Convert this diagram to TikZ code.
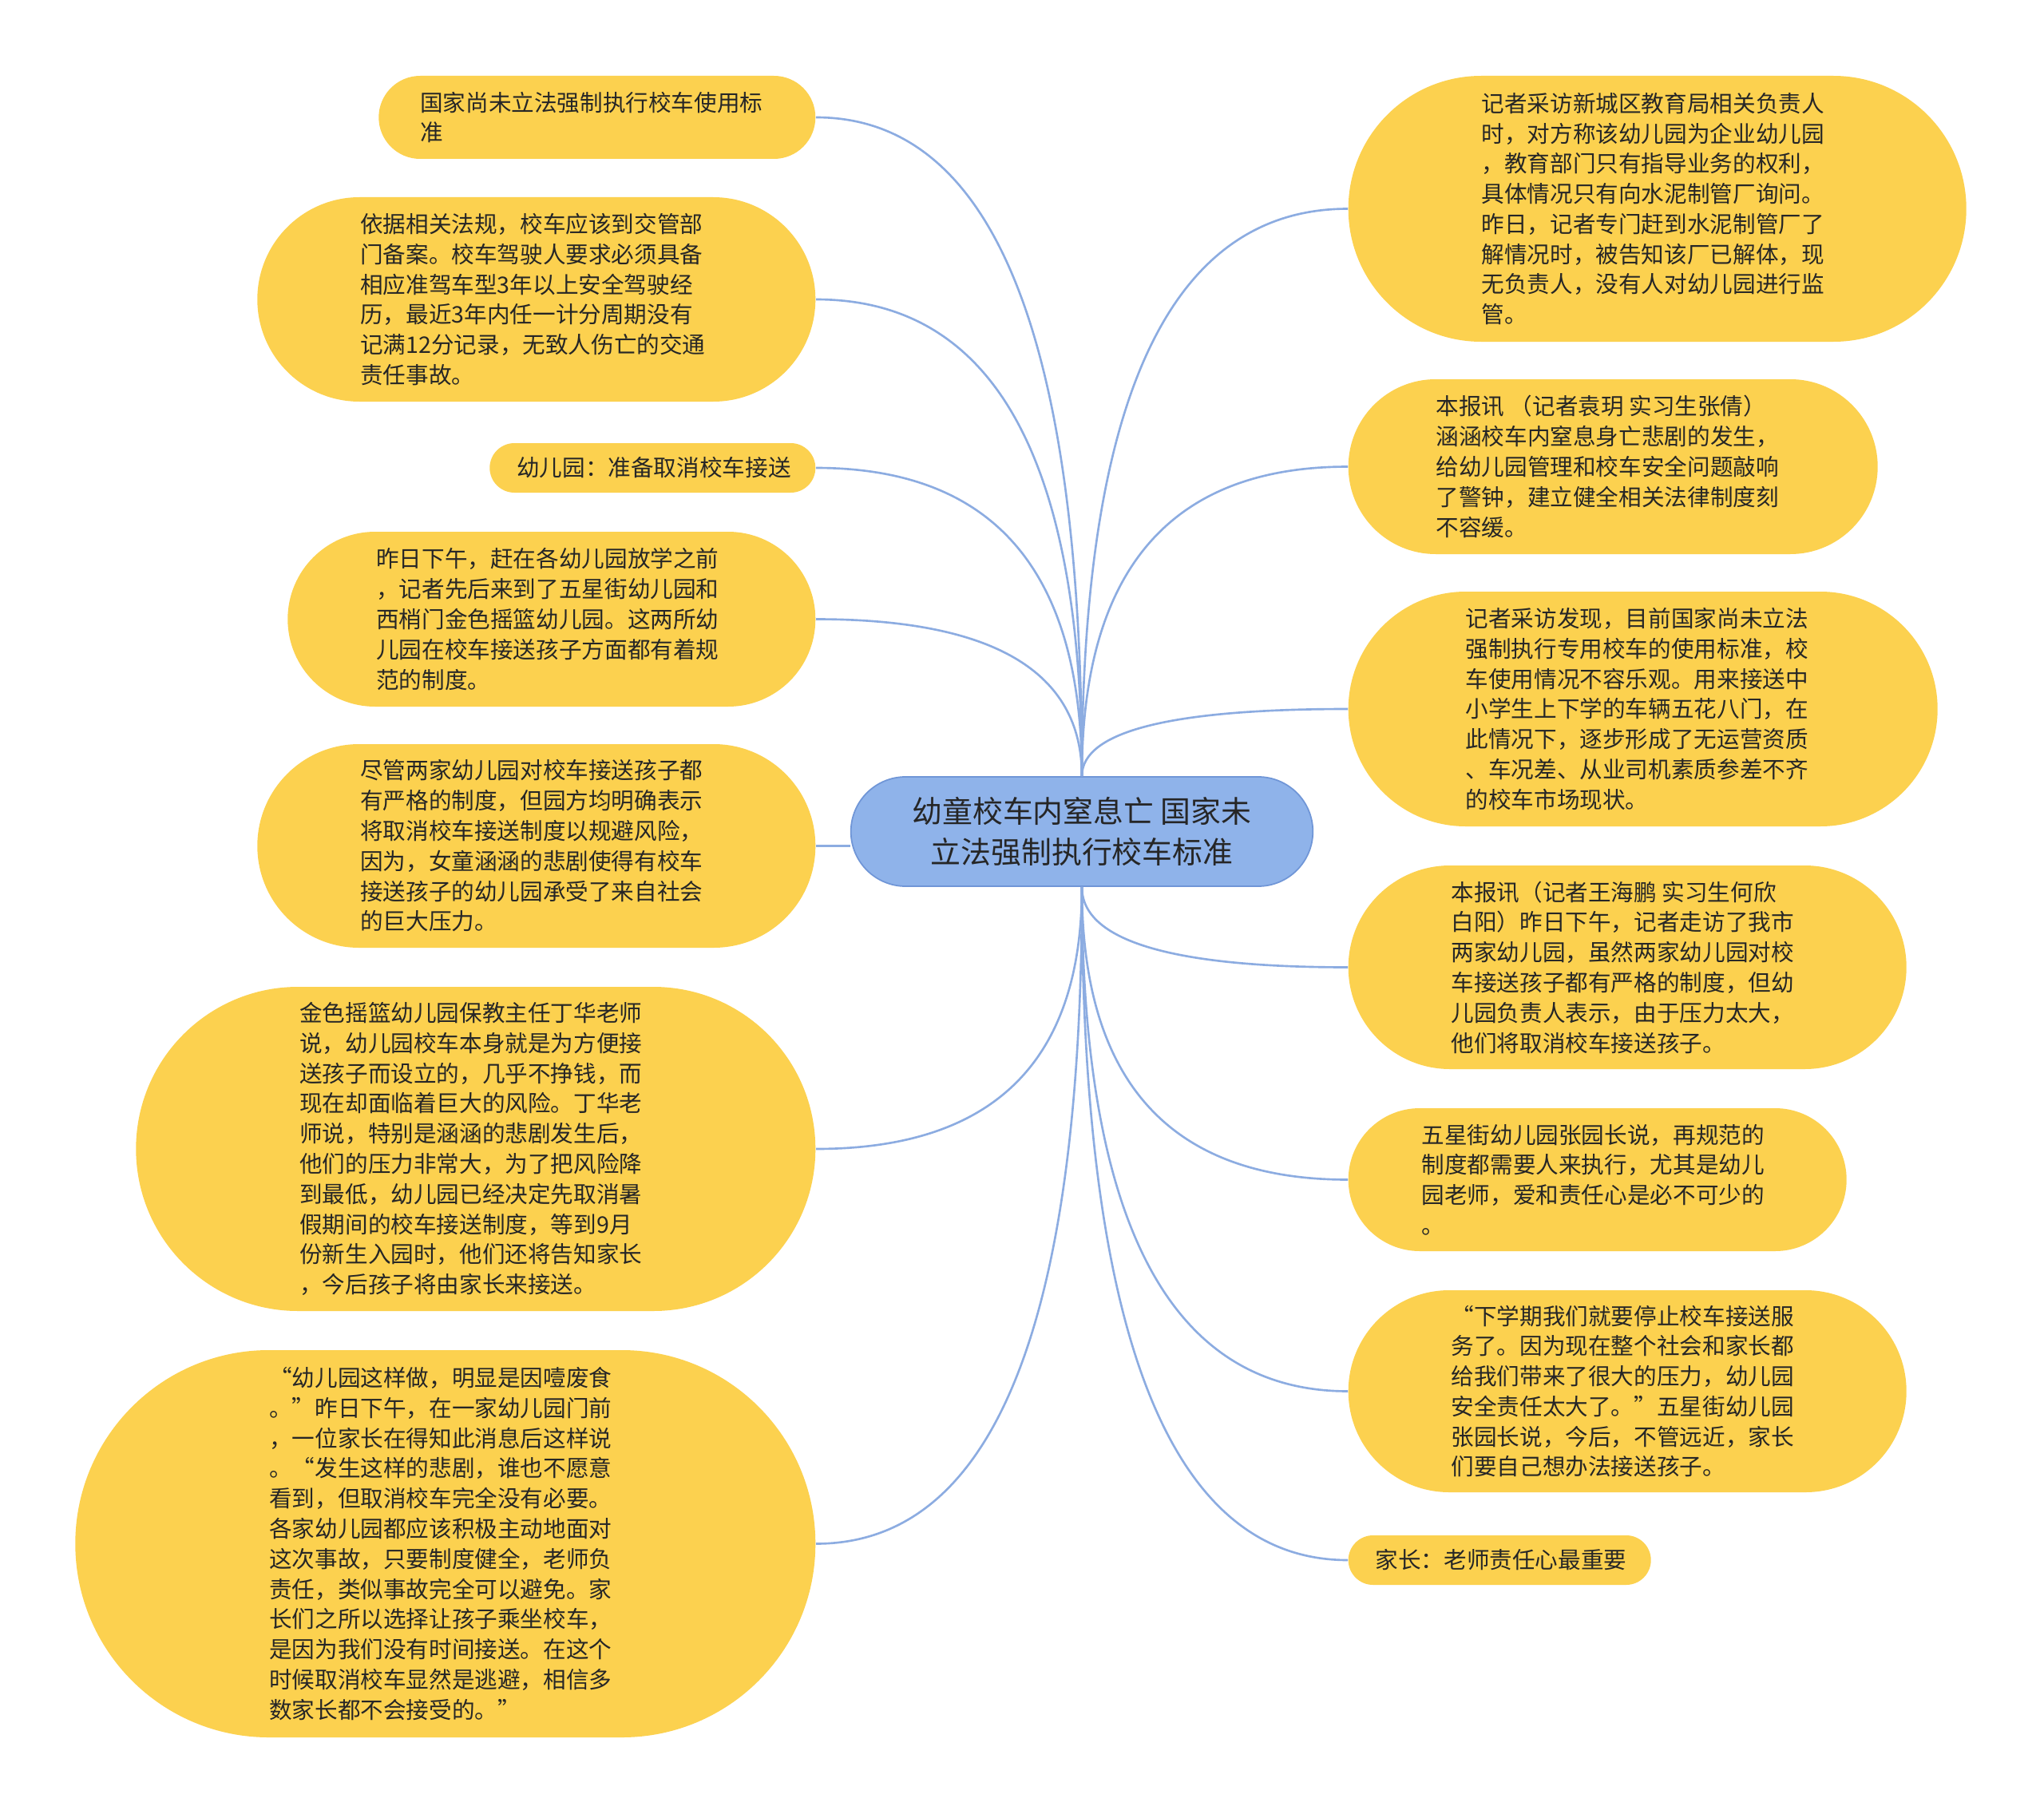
\documentclass[tikz,border=0pt]{standalone}
\usepackage{fontspec}
\newfontfamily\cjk{Noto Sans CJK SC}
\usetikzlibrary{shapes.misc,calc}
\definecolor{bubbleyellow}{RGB}{252,209,79}
\definecolor{rootblue}{RGB}{143,179,234}
\definecolor{rootedge}{RGB}{112,150,215}
\definecolor{linkblue}{RGB}{140,172,225}

\begin{document}
\begin{tikzpicture}[
    bubble/.style={rounded rectangle, fill=bubbleyellow, inner sep=0pt},
    txt/.style={inner sep=0pt, align=left, text=black!85, font=\cjk\fontsize{8.14pt}{10.75pt}\selectfont},
    rootnode/.style={rounded rectangle, fill=rootblue, draw=rootedge, line width=0.5pt, minimum width=6.02cm, minimum height=1.37cm, align=center, text=black!85, font=\cjk\fontsize{10.78pt}{14.4pt}\selectfont},
    link/.style={draw=linkblue, line width=0.75pt}
]
\fill[white] (0,0) rectangle (25.6,-22.72);
\useasboundingbox (0,0) rectangle (25.6,-22.72);

% Root
\node[rootnode] (root) at (13.55,-10.415) {幼童校车内窒息亡 国家未\\立法强制执行校车标准};

% Left bubbles
\node[bubble, minimum width=5.47cm, minimum height=1.04cm, anchor=east] (l1) at (10.22,-1.47) {};
\node[txt, anchor=west] (l1t) at ([xshift=0.52cm]l1.west) {国家尚未立法强制执行校车使用标\\准};

\node[bubble, minimum width=6.99cm, minimum height=2.56cm, anchor=east] (l2) at (10.22,-3.75) {};
\node[txt, anchor=west] (l2t) at ([xshift=1.29cm]l2.west) {依据相关法规，校车应该到交管部\\门备案。校车驾驶人要求必须具备\\相应准驾车型3年以上安全驾驶经\\历，最近3年内任一计分周期没有\\记满12分记录，无致人伤亡的交通\\责任事故。};

\node[bubble, minimum width=4.08cm, minimum height=0.62cm, anchor=east] (l3) at (10.22,-5.86) {};
\node[txt, anchor=west] (l3t) at ([xshift=0.34cm]l3.west) {幼儿园：准备取消校车接送};

\node[bubble, minimum width=6.61cm, minimum height=2.19cm, anchor=east] (l4) at (10.22,-7.755) {};
\node[txt, anchor=west] (l4t) at ([xshift=1.11cm]l4.west) {昨日下午，赶在各幼儿园放学之前\\，记者先后来到了五星街幼儿园和\\西梢门金色摇篮幼儿园。这两所幼\\儿园在校车接送孩子方面都有着规\\范的制度。};

\node[bubble, minimum width=6.99cm, minimum height=2.55cm, anchor=east] (l5) at (10.22,-10.595) {};
\node[txt, anchor=west] (l5t) at ([xshift=1.29cm]l5.west) {尽管两家幼儿园对校车接送孩子都\\有严格的制度，但园方均明确表示\\将取消校车接送制度以规避风险，\\因为，女童涵涵的悲剧使得有校车\\接送孩子的幼儿园承受了来自社会\\的巨大压力。};

\node[bubble, minimum width=8.51cm, minimum height=4.06cm, anchor=east] (l6) at (10.22,-14.39) {};
\node[txt, anchor=west] (l6t) at ([xshift=2.05cm]l6.west) {金色摇篮幼儿园保教主任丁华老师\\说，幼儿园校车本身就是为方便接\\送孩子而设立的，几乎不挣钱，而\\现在却面临着巨大的风险。丁华老\\师说，特别是涵涵的悲剧发生后，\\他们的压力非常大，为了把风险降\\到最低，幼儿园已经决定先取消暑\\假期间的校车接送制度，等到9月\\份新生入园时，他们还将告知家长\\，今后孩子将由家长来接送。};

\node[bubble, minimum width=9.27cm, minimum height=4.85cm, anchor=east] (l7) at (10.22,-19.335) {};
\node[txt, anchor=west] (l7t) at ([xshift=2.43cm]l7.west) {“幼儿园这样做，明显是因噎废食\\。”昨日下午，在一家幼儿园门前\\，一位家长在得知此消息后这样说\\。“发生这样的悲剧，谁也不愿意\\看到，但取消校车完全没有必要。\\各家幼儿园都应该积极主动地面对\\这次事故，只要制度健全，老师负\\责任，类似事故完全可以避免。家\\长们之所以选择让孩子乘坐校车，\\是因为我们没有时间接送。在这个\\时候取消校车显然是逃避，相信多\\数家长都不会接受的。”};

% Right bubbles
\node[bubble, minimum width=7.74cm, minimum height=3.33cm, anchor=west] (r1) at (16.88,-2.615) {};
\node[txt, anchor=west] (r1t) at ([xshift=1.67cm]r1.west) {记者采访新城区教育局相关负责人\\时，对方称该幼儿园为企业幼儿园\\，教育部门只有指导业务的权利，\\具体情况只有向水泥制管厂询问。\\昨日，记者专门赶到水泥制管厂了\\解情况时，被告知该厂已解体，现\\无负责人，没有人对幼儿园进行监\\管。};

\node[bubble, minimum width=6.63cm, minimum height=2.19cm, anchor=west] (r2) at (16.88,-5.845) {};
\node[txt, anchor=west] (r2t) at ([xshift=1.10cm]r2.west) {本报讯 （记者袁玥 实习生张倩）\\涵涵校车内窒息身亡悲剧的发生，\\给幼儿园管理和校车安全问题敲响\\了警钟，建立健全相关法律制度刻\\不容缓。};

\node[bubble, minimum width=7.38cm, minimum height=2.94cm, anchor=west] (r3) at (16.88,-8.88) {};
\node[txt, anchor=west] (r3t) at ([xshift=1.47cm]r3.west) {记者采访发现，目前国家尚未立法\\强制执行专用校车的使用标准，校\\车使用情况不容乐观。用来接送中\\小学生上下学的车辆五花八门，在\\此情况下，逐步形成了无运营资质\\、车况差、从业司机素质参差不齐\\的校车市场现状。};

\node[bubble, minimum width=6.99cm, minimum height=2.55cm, anchor=west] (r4) at (16.88,-12.115) {};
\node[txt, anchor=west] (r4t) at ([xshift=1.29cm]r4.west) {本报讯（记者王海鹏 实习生何欣\\白阳）昨日下午，记者走访了我市\\两家幼儿园，虽然两家幼儿园对校\\车接送孩子都有严格的制度，但幼\\儿园负责人表示，由于压力太大，\\他们将取消校车接送孩子。};

\node[bubble, minimum width=6.24cm, minimum height=1.79cm, anchor=west] (r5) at (16.88,-14.775) {};
\node[txt, anchor=west] (r5t) at ([xshift=0.92cm]r5.west) {五星街幼儿园张园长说，再规范的\\制度都需要人来执行，尤其是幼儿\\园老师，爱和责任心是必不可少的\\。};

\node[bubble, minimum width=6.99cm, minimum height=2.53cm, anchor=west] (r6) at (16.88,-17.425) {};
\node[txt, anchor=west] (r6t) at ([xshift=1.29cm]r6.west) {“下学期我们就要停止校车接送服\\务了。因为现在整个社会和家长都\\给我们带来了很大的压力，幼儿园\\安全责任太大了。”五星街幼儿园\\张园长说，今后，不管远近，家长\\们要自己想办法接送孩子。};

\node[bubble, minimum width=3.79cm, minimum height=0.62cm, anchor=west] (r7) at (16.88,-19.54) {};
\node[txt, anchor=west] (r7t) at ([xshift=0.34cm]r7.west) {家长：老师责任心最重要};

% Branch lines
\draw[link] (l1.east) .. controls ($(l1.east)!2/3!(l1.east-|root.north)$) and ($(root.north)!2/3!(l1.east-|root.north)$) .. (root.north);
\draw[link] (l2.east) .. controls ($(l2.east)!2/3!(l2.east-|root.north)$) and ($(root.north)!2/3!(l2.east-|root.north)$) .. (root.north);
\draw[link] (l3.east) .. controls ($(l3.east)!2/3!(l3.east-|root.north)$) and ($(root.north)!2/3!(l3.east-|root.north)$) .. (root.north);
\draw[link] (l4.east) .. controls ($(l4.east)!2/3!(l4.east-|root.north)$) and ($(root.north)!2/3!(l4.east-|root.north)$) .. (root.north);
\draw[link] (l5.east) -- (l5.east-|root.west);
\draw[link] (l6.east) .. controls ($(l6.east)!2/3!(l6.east-|root.south)$) and ($(root.south)!2/3!(l6.east-|root.south)$) .. (root.south);
\draw[link] (l7.east) .. controls ($(l7.east)!2/3!(l7.east-|root.south)$) and ($(root.south)!2/3!(l7.east-|root.south)$) .. (root.south);

\draw[link] (r1.west) .. controls ($(r1.west)!2/3!(r1.west-|root.north)$) and ($(root.north)!2/3!(r1.west-|root.north)$) .. (root.north);
\draw[link] (r2.west) .. controls ($(r2.west)!2/3!(r2.west-|root.north)$) and ($(root.north)!2/3!(r2.west-|root.north)$) .. (root.north);
\draw[link] (r3.west) .. controls ($(r3.west)!2/3!(r3.west-|root.north)$) and ($(root.north)!2/3!(r3.west-|root.north)$) .. (root.north);
\draw[link] (r4.west) .. controls ($(r4.west)!2/3!(r4.west-|root.south)$) and ($(root.south)!2/3!(r4.west-|root.south)$) .. (root.south);
\draw[link] (r5.west) .. controls ($(r5.west)!2/3!(r5.west-|root.south)$) and ($(root.south)!2/3!(r5.west-|root.south)$) .. (root.south);
\draw[link] (r6.west) .. controls ($(r6.west)!2/3!(r6.west-|root.south)$) and ($(root.south)!2/3!(r6.west-|root.south)$) .. (root.south);
\draw[link] (r7.west) .. controls ($(r7.west)!2/3!(r7.west-|root.south)$) and ($(root.south)!2/3!(r7.west-|root.south)$) .. (root.south);

\end{tikzpicture}
\end{document}
